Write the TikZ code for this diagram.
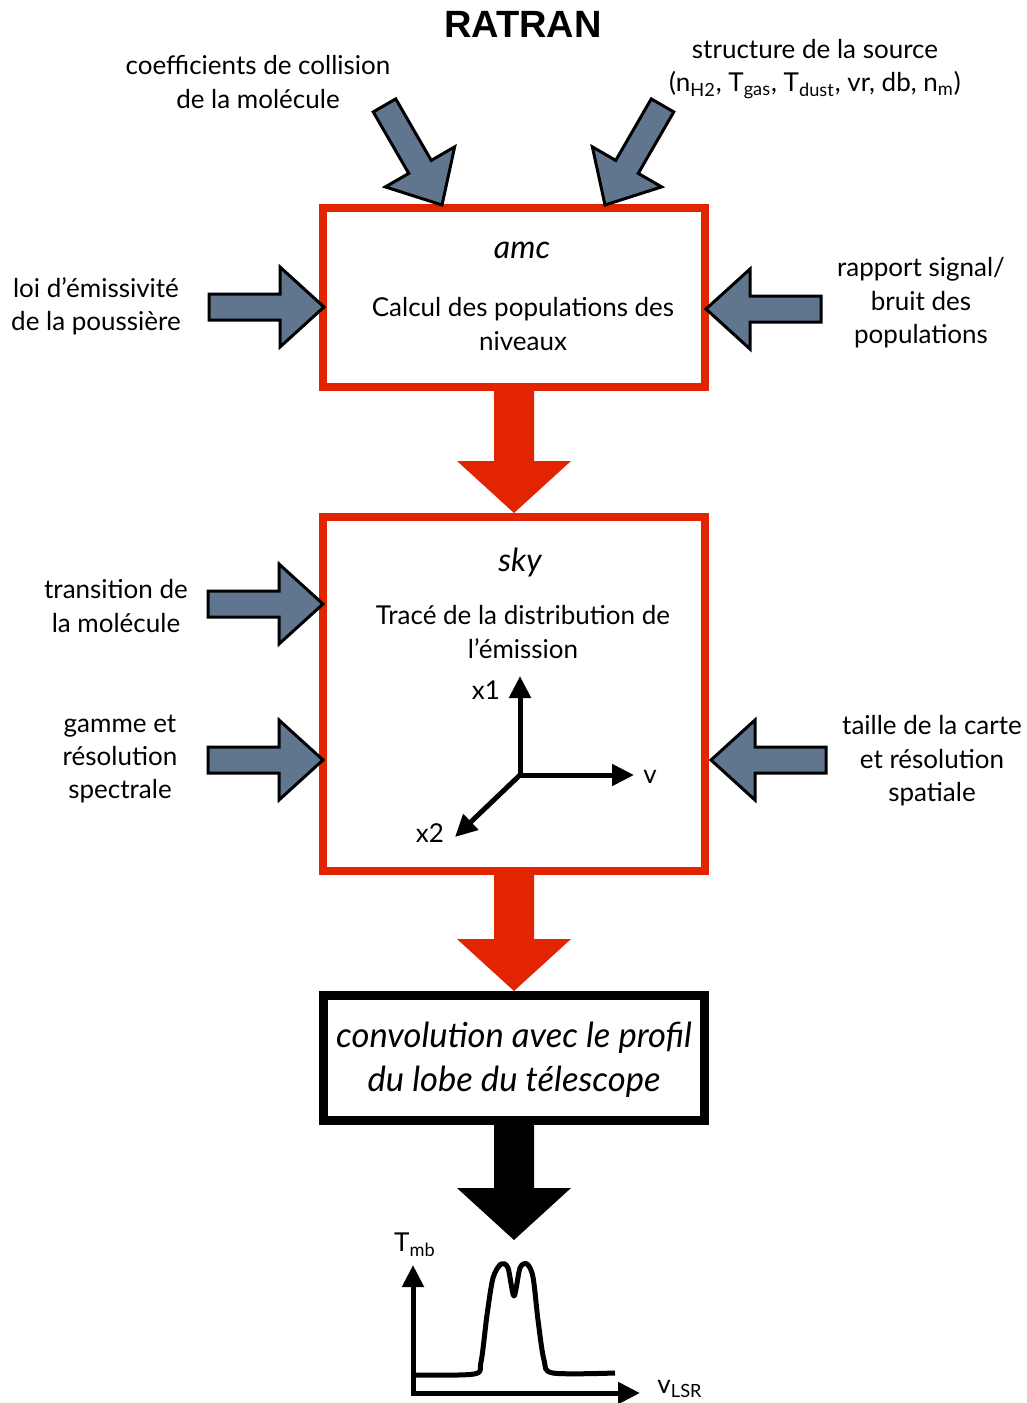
\documentclass[tikz,border=0pt]{standalone}
\usepackage{fontspec}
\setmainfont{Lato}
\newfontfamily\titlefont{Liberation Sans}
\usetikzlibrary{arrows.meta, positioning}
\definecolor{boxred}{RGB}{227,36,0}
\definecolor{slate}{RGB}{96,118,143}

\tikzset{
  pics/inarrow/.style={code={
    \draw[fill=slate, line width=1.5pt, line join=miter]
      (0,0) -- (-44,40) -- (-44,13) -- (-115,13) -- (-115,-13) -- (-44,-13) -- (-44,-40) -- cycle;
  }},
  pics/bigarrow/.style={code={
    \fill[#1] (0,0) -- (-57,-52) -- (-20,-52) -- (-20,-122) -- (20,-122) -- (20,-52) -- (57,-52) -- cycle;
  }}
}

\begin{document}
\begin{tikzpicture}[
  x=0.5pt, y=-0.5pt,
  txt/.style={align=center, inner sep=0pt, font=\fontsize{13}{16.7}\selectfont},
  redbox/.style={draw=boxred, line width=4pt, minimum width=191pt},
  blackbox/.style={draw, line width=4.5pt, minimum width=190.5pt, minimum height=62.5pt},
  axis/.style={-{Triangle[length=11pt, width=10.5pt]}, line width=2.5pt},
  curve/.style={line width=2.5pt, line join=round}
]
\useasboundingbox (0,0) rectangle (1027,1403);

\node[font=\titlefont\bfseries\fontsize{19}{22}\selectfont] (title) at (523,24) {RATRAN};

% boxes
\node[redbox, minimum height=89.5pt] (amc) at (514,297.5) {};
\node[redbox, minimum height=177pt] (sky) at (514,694) {};
\node[blackbox] (conv) at (514,1058) {};

% flow arrows
\pic at (sky.north) {bigarrow=boxred};
\pic at (conv.north) {bigarrow=boxred};
\pic at (514,1240) {bigarrow=black};

% box contents
\node[txt, font=\itshape\fontsize{16}{20}\selectfont] (amcname) at (522,250) {amc};
\node[txt] (calc) at (523,324) {Calcul des populations des\\niveaux};
\node[txt, font=\itshape\fontsize{16}{20}\selectfont] (skyname) at (520,562) {sky};
\node[txt] (trace) at (523,632) {Tracé de la distribution de\\l’émission};
\node[txt, font=\itshape\fontsize{17.3}{22}\selectfont] (convtext) at (514,1060) {convolution avec le profil\\du lobe du télescope};

% axes of the sky cube
\coordinate (o) at (520,775);
\node[txt] (x1) at (486,690) {x1};
\node[txt] (vel) at (650,777) {v};
\node[txt] (x2) at (430,833) {x2};
\draw[axis] (o) -- (520,676);
\draw[axis] (o) -- (634,775);
\draw[axis] (o) -- (455,837);

% inputs
\node[txt] (coll) at (258,82) {coefficients de collision\\de la molécule};
\node[txt] (src) at (815,69) {structure de la source\\(n\textsubscript{H2}, T\textsubscript{gas}, T\textsubscript{dust}, vr, db, n\textsubscript{m})};
\node[txt] (loi) at (96,306) {loi d’émissivité\\de la poussière};
\node[txt] (snr) at (921,303) {rapport signal/\\bruit des\\populations};
\node[txt] (trans) at (116,606) {transition de\\la molécule};
\node[txt] (gamme) at (120,759) {gamme et\\résolution\\spectrale};
\node[txt] (taille) at (932,761) {taille de la carte\\et résolution\\spatiale};

\pic[rotate=-60] at (442,205) {inarrow};
\pic[rotate=-120] at (605,205) {inarrow};
\pic at (324,307) {inarrow};
\pic[rotate=180] at (706,309) {inarrow};
\pic at (323,604) {inarrow};
\pic at (323,760) {inarrow};
\pic[rotate=180] at (711,760) {inarrow};

% line profile
\coordinate (po) at (413,1393);
\node[txt] (tmb) at (415,1245) {T\textsubscript{mb}};
\node[txt] (vlsr) at (680,1389) {v\textsubscript{LSR}};
\draw[axis] (413,1396) -- (413,1265);
\draw[axis] (po) -- (640,1393);
\draw[curve] plot[smooth, tension=0.5] coordinates {(416,1375) (474,1374) (481,1362) (487,1315) (493,1278) (501,1264) (508,1268) (514,1296) (520,1268) (527,1264) (533,1277) (538,1320) (544,1360) (553,1373) (615,1373)};
\end{tikzpicture}
\end{document}
